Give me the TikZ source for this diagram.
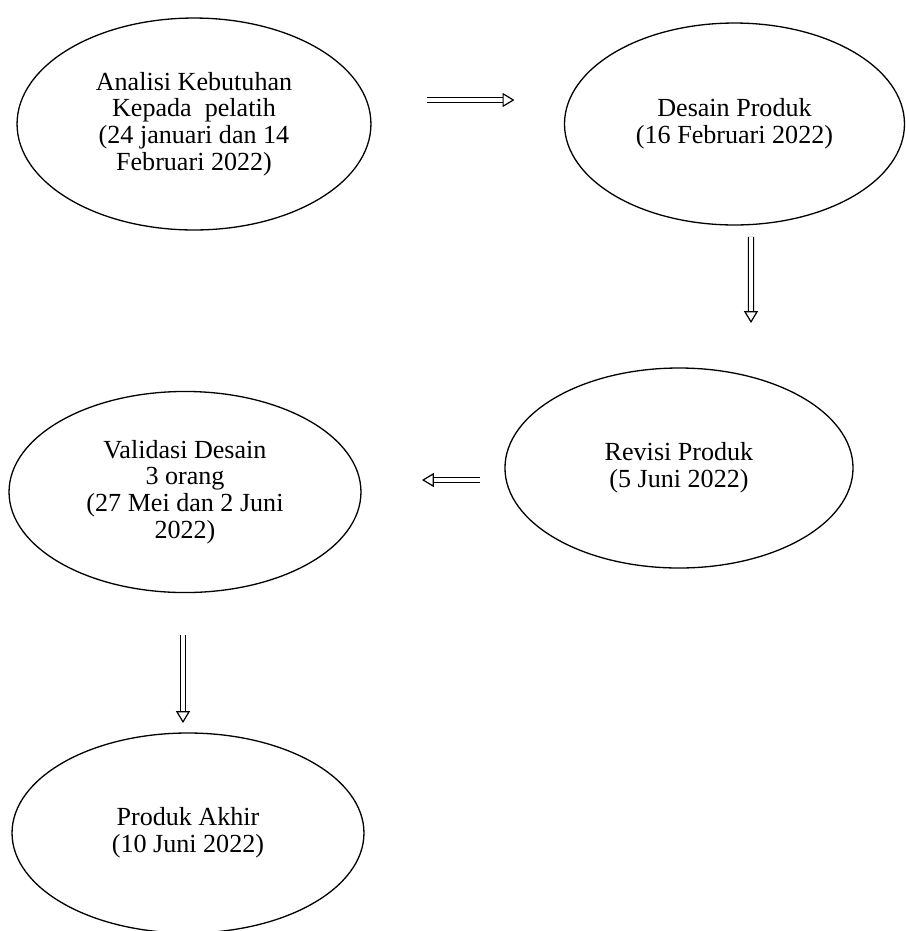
\documentclass[tikz,border=0pt]{standalone}
\usepackage{fontspec}
\setmainfont{Liberation Serif}
\usepackage{tikz}
\usetikzlibrary{shapes.geometric, arrows.meta, calc}
\tikzset{
  stage/.style={
    ellipse,
    draw,
    line width=0.6pt,
    inner sep=0pt,
    outer sep=0pt,
    align=center},
  flowarrow/.style={
    double,
    double distance=1.8pt,
    line width=0.55pt,
    -{Triangle[open, length=5.5pt, width=6.5pt, line width=0.55pt]}}
}

\begin{document}
\begin{tikzpicture}[x=0.46pt, y=-0.46pt, font=\fontsize{12}{12.3}\selectfont]
  \useasboundingbox (0,0) rectangle (906,931);

  % Analisi
  \node (analisi) [stage, minimum width=162.8pt, minimum height=97.5pt] at (194,124)
    {Analisi Kebutuhan\\Kepada\ \ pelatih\\(24 januari dan 14\\Februari 2022)};

  % Desain
  \node (desain) [stage, minimum width=156.4pt, minimum height=92.9pt] at (734.5,124)
    {Desain Produk\\(16 Februari 2022)};

  % Revisi
  \node (revisi) [stage, minimum width=160.1pt, minimum height=92pt] at (679,468)
    {Revisi Produk\\(5 Juni 2022)};

  % Validasi
  \node (validasi) [stage, minimum width=161.9pt, minimum height=92.5pt] at (185,492)
    {Validasi Desain\\3 orang\\(27 Mei dan 2 Juni\\2022)};

  % Produk akhir
  \node (akhir) [stage, minimum width=161.9pt, minimum height=92pt] at (188,833)
    {Produk Akhir\\(10 Juni 2022)};

  % Arrows
  \draw[flowarrow] ($(analisi.east)+(56,-24)$) -- ($(desain.west)+(-50,-24)$);
  \draw[flowarrow] ($(desain.south)+(16.5,12)$) -- ($(revisi.north)+(72,-45)$);
  \draw[flowarrow] ($(revisi.west)+(-25,12)$) -- ($(validasi.east)+(61,-12)$);
  \draw[flowarrow] ($(validasi.south)+(-2,42)$) -- ($(akhir.north)+(-5,-10)$);
\end{tikzpicture}
\end{document}
